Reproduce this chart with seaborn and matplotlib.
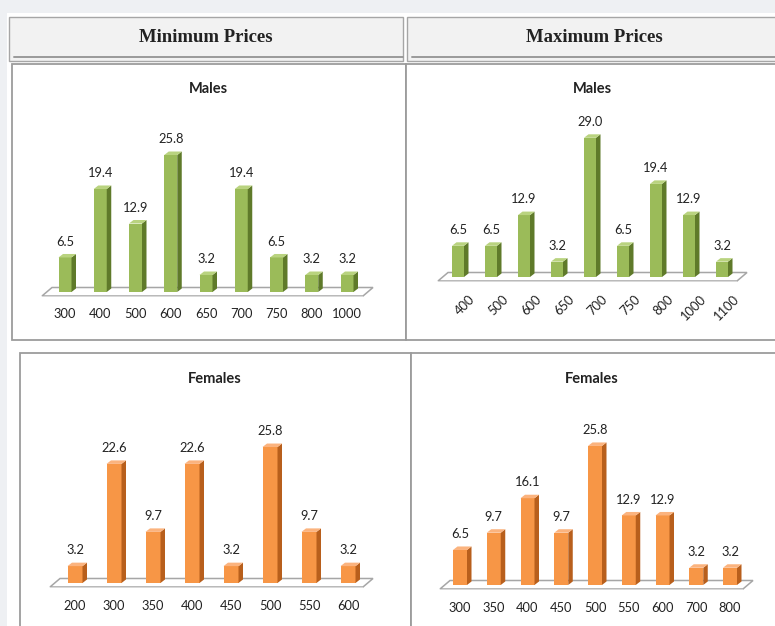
import matplotlib
matplotlib.use("Agg")
import matplotlib.pyplot as plt
from matplotlib.patches import Rectangle, Polygon
import matplotlib.transforms as mtransforms
import seaborn as sns
import pandas as pd

# ---------------- data ----------------
min_male_cats = ["300", "400", "500", "600", "650", "700", "750", "800", "1000"]
min_male_vals = [6.5, 19.4, 12.9, 25.8, 3.2, 19.4, 6.5, 3.2, 3.2]

max_male_cats = ["400", "500", "600", "650", "700", "750", "800", "1000", "1100"]
max_male_vals = [6.5, 6.5, 12.9, 3.2, 29.0, 6.5, 19.4, 12.9, 3.2]

min_female_cats = ["200", "300", "350", "400", "450", "500", "550", "600"]
min_female_vals = [3.2, 22.6, 9.7, 22.6, 3.2, 25.8, 9.7, 3.2]

max_female_cats = ["300", "350", "400", "450", "500", "550", "600", "700", "800"]
max_female_vals = [6.5, 9.7, 16.1, 9.7, 25.8, 12.9, 12.9, 3.2, 3.2]

headers = ["Minimum Prices", "Maximum Prices"]
titles = ["Males", "Males", "Females", "Females"]

# ---------------- style ----------------
sns.set_theme(style="white")
plt.rcParams["font.family"] = ["Lato", "DejaVu Sans"]

W, H = 775, 626
fig = plt.figure(figsize=(W / 100, H / 100), dpi=100)
fig.patch.set_facecolor("#eef0f3")


def frect(x0, y0, x1, y1):
    return [x0 / W, 1 - y1 / H, (x1 - x0) / W, (y1 - y0) / H]


def add_rect(x0, y0, x1, y1, fc, ec, lw=1.0, z=0):
    fig.add_artist(Rectangle((x0 / W, 1 - y1 / H), (x1 - x0) / W, (y1 - y0) / H,
                             transform=fig.transFigure, facecolor=fc, edgecolor=ec,
                             linewidth=lw, zorder=z))


def add_line(x0, y0, x1, y1, color, lw=1.0, z=1):
    fig.add_artist(plt.Line2D([x0 / W, x1 / W], [1 - y0 / H, 1 - y1 / H],
                              transform=fig.transFigure, color=color, lw=lw, zorder=z))


# white page area
add_rect(7, 13, 780, 640, "white", "none", 0, z=-3)

# header cells
for (x0, x1), txt in zip([(9, 403), (407, 780)], headers):
    add_rect(x0, 17, x1, 61, "#f2f2f2", "#a6a6a6", 1.0, z=-2)
    add_line(x0 + 5, 57, x1, 57, "#9a9a9a", 1.4, z=-1)
    fig.text(((x0 + min(x1, 775)) / 2 + (3 if x0 > 400 else 0)) / W, 1 - 37 / H, txt,
             ha="center", va="center", fontsize=13.5, fontweight="bold",
             family=["Liberation Serif", "DejaVu Serif"], color="#222222")

# chart boxes
boxes = [(12, 64, 406, 340), (406, 64, 780, 340), (20, 353, 411, 640), (411, 353, 780, 640)]
for (x0, y0, x1, y1) in boxes:
    add_rect(x0, y0, x1, y1, "white", "#9c9c9c", 1.3, z=-2)

GREEN = ("#9bbb59", "#5f7a2a", "#b9d37f")
ORANGE = ("#f79646", "#b85f1c", "#fbb37e")

# panel geometry in pixels: first-bar centre, spacing, base y, px per unit,
# bar width, floor left/right front x, label centre y
panels = [
    dict(cats=min_male_cats, vals=min_male_vals, col=GREEN, title=titles[0], tx=208, ty=89,
         c0=65, s=35.25, b=292, u=5.31, bw=13, fl=42, fr=363, rot=False, lab=315),
    dict(cats=max_male_cats, vals=max_male_vals, col=GREEN, title=titles[1], tx=592, ty=89,
         c0=458, s=33.0, b=277, u=4.80, bw=12, fl=438, fr=737, rot=True, lab=300),
    dict(cats=min_female_cats, vals=min_female_vals, col=ORANGE, title=titles[2], tx=215, ty=379,
         c0=75, s=39.0, b=583, u=5.27, bw=15, fl=50, fr=363, rot=False, lab=607),
    dict(cats=max_female_cats, vals=max_female_vals, col=ORANGE, title=titles[3], tx=592, ty=379,
         c0=460, s=33.75, b=585, u=5.39, bw=14, fl=440, fr=743, rot=False, lab=608),
]

DX, DY = 4.5, 3.5   # 3-D depth offset in pixels
FS = 9.3

for P in panels:
    xl, xr = P["fl"] - 4, P["fr"] + 16
    yt, yb = P["b"] - 175, P["b"] + 5
    ax = fig.add_axes(frect(xl, yt, xr, yb))
    ax.set_zorder(5)
    ax.set_facecolor("none")
    df = pd.DataFrame({"cat": P["cats"], "val": P["vals"]})
    sns.barplot(data=df, x="cat", y="val", color=P["col"][0], saturation=1,
                width=P["bw"] / P["s"], ax=ax, zorder=3, linewidth=0)
    s, u, c0, b = P["s"], P["u"], P["c0"], P["b"]
    ax.set_xlim((xl - c0) / s, (xr - c0) / s)
    ax.set_ylim((b - yb) / u, (b - yt) / u)
    ddx, ddy = DX / s, DY / u
    # floor slab
    fy_front, fy_back = -4 / u, 4.5 / u
    fl, fr = (P["fl"] - c0) / s, (P["fr"] - c0) / s
    bx = 10 / s
    ax.add_patch(Polygon([(fl, fy_front), (fr, fy_front), (fr + bx, fy_back), (fl + bx, fy_back)],
                         closed=True, facecolor="white", edgecolor="#a6a6a6", lw=1.1, zorder=1))
    ax.add_patch(Polygon([(fl, fy_front), (fr, fy_front), (fr, fy_front - 1.5 / u), (fl, fy_front - 1.5 / u)],
                         closed=True, facecolor="#d9d9d9", edgecolor="none", zorder=1))
    for p, v in zip(ax.patches[:len(P["vals"])], P["vals"]):
        x0, w, h = p.get_x(), p.get_width(), p.get_height()
        ax.add_patch(Polygon([(x0 + w, 0), (x0 + w + ddx, ddy), (x0 + w + ddx, h + ddy), (x0 + w, h)],
                             closed=True, facecolor=P["col"][1], edgecolor="none", zorder=3))
        ax.add_patch(Polygon([(x0, h), (x0 + ddx, h + ddy), (x0 + w + ddx, h + ddy), (x0 + w, h)],
                             closed=True, facecolor=P["col"][2], edgecolor="none", zorder=3))
        ax.annotate(f"{v:.1f}", (x0 + w / 2, h + ddy), xytext=(0, 4.5), textcoords="offset points",
                    ha="center", va="bottom", fontsize=FS, color="#222222")
    ax.set_xlabel("")
    ax.set_ylabel("")
    ax.set_yticks([])
    sns.despine(ax=ax, left=True, bottom=True)
    ax.tick_params(axis="x", length=0, labelsize=FS, labelcolor="#222222")
    if P["rot"]:
        ax.tick_params(axis="x", pad=8)
        plt.setp(ax.get_xticklabels(), rotation=45, ha="right", rotation_mode="anchor")
        off = mtransforms.ScaledTranslation(11 / 100, 0, fig.dpi_scale_trans)
        for lbl in ax.get_xticklabels():
            lbl.set_transform(lbl.get_transform() + off)
    else:
        pad_px = P["lab"] - 6.5 - yb
        ax.tick_params(axis="x", pad=pad_px * 0.72)
    fig.text(P["tx"] / W, 1 - P["ty"] / H, P["title"], ha="center", va="center",
             fontsize=10.5, fontweight="bold", color="#222222")

fig.savefig("out.png", dpi=100, facecolor=fig.get_facecolor())
